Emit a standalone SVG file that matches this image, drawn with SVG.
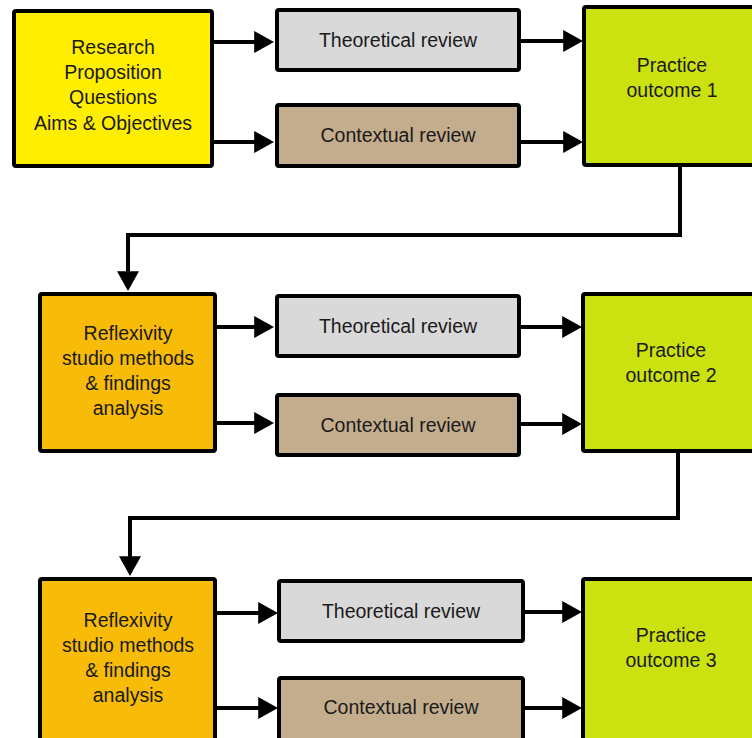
<svg xmlns="http://www.w3.org/2000/svg" width="752" height="738" viewBox="0 0 752 738">
<style>
.box{stroke:#000;stroke-width:4;stroke-linejoin:round}
.start{fill:#FFEE00}
.refl{fill:#F7BB08}
.theo{fill:#D9D9D9}
.ctx{fill:#C4AD8D}
.prac{fill:#CCE210}
text{font-family:"Liberation Sans",Arial,sans-serif;font-size:19.5px;fill:#1a1a1a;text-anchor:middle}
.conn line,.conn path{stroke:#000;stroke-width:4;fill:none}
</style>
<defs>
<marker id="ah" markerUnits="userSpaceOnUse" markerWidth="20" markerHeight="22" refX="8" refY="10" orient="auto" viewBox="0 0 18 20">
<path d="M0,0 L18,10 L0,20 z" fill="#000"/>
</marker>
</defs>
<rect width="752" height="738" fill="#fff"/>
<g class="conn">
<line x1="214" y1="42" x2="263" y2="42" marker-end="url(#ah)"/>
<line x1="214" y1="142" x2="263" y2="142" marker-end="url(#ah)"/>
<line x1="521" y1="41" x2="572" y2="41" marker-end="url(#ah)"/>
<line x1="521" y1="142" x2="572" y2="142" marker-end="url(#ah)"/>
<path d="M680,167 V235 H128 V280" marker-end="url(#ah)"/>
<line x1="217" y1="327" x2="263" y2="327" marker-end="url(#ah)"/>
<line x1="217" y1="423" x2="263" y2="423" marker-end="url(#ah)"/>
<line x1="521" y1="327" x2="571" y2="327" marker-end="url(#ah)"/>
<line x1="521" y1="424" x2="571" y2="424" marker-end="url(#ah)"/>
<path d="M678,453 V518 H130 V565" marker-end="url(#ah)"/>
<line x1="217" y1="613" x2="267" y2="613" marker-end="url(#ah)"/>
<line x1="217" y1="708" x2="267" y2="708" marker-end="url(#ah)"/>
<line x1="525" y1="612" x2="571" y2="612" marker-end="url(#ah)"/>
<line x1="525" y1="708" x2="571" y2="708" marker-end="url(#ah)"/>
</g>
<g id="research">
<rect class="box start" x="14" y="11" width="198" height="155" rx="2"/>
<text x="113" y="54">Research</text>
<text x="113" y="79">Proposition</text>
<text x="113" y="104">Questions</text>
<text x="113" y="130">Aims &amp; Objectives</text>
</g>
<g id="theo1">
<rect class="box theo" x="277" y="10" width="242" height="60" rx="2"/>
<text x="398" y="47">Theoretical review</text>
</g>
<g id="ctx1">
<rect class="box ctx" x="277" y="105" width="242" height="61" rx="2"/>
<text x="398" y="142">Contextual review</text>
</g>
<g id="prac1">
<rect class="box prac" x="584" y="7" width="200" height="158" rx="2"/>
<text x="672" y="72">Practice</text>
<text x="672" y="97">outcome 1</text>
</g>
<g id="refl2">
<rect class="box refl" x="40" y="294" width="175" height="157" rx="2"/>
<text x="128" y="340">Reflexivity</text>
<text x="128" y="365">studio methods</text>
<text x="128" y="390">&amp; findings</text>
<text x="128" y="415">analysis</text>
</g>
<g id="theo2">
<rect class="box theo" x="277" y="296" width="242" height="60" rx="2"/>
<text x="398" y="333">Theoretical review</text>
</g>
<g id="ctx2">
<rect class="box ctx" x="277" y="395" width="242" height="60" rx="2"/>
<text x="398" y="432">Contextual review</text>
</g>
<g id="prac2">
<rect class="box prac" x="583" y="294" width="200" height="157" rx="2"/>
<text x="671" y="357">Practice</text>
<text x="671" y="382">outcome 2</text>
</g>
<g id="refl3">
<rect class="box refl" x="40" y="579" width="175" height="200" rx="2"/>
<text x="128" y="627">Reflexivity</text>
<text x="128" y="652">studio methods</text>
<text x="128" y="677">&amp; findings</text>
<text x="128" y="702">analysis</text>
</g>
<g id="theo3">
<rect class="box theo" x="279" y="581" width="244" height="60" rx="2"/>
<text x="401" y="618">Theoretical review</text>
</g>
<g id="ctx3">
<rect class="box ctx" x="279" y="678" width="244" height="100" rx="2"/>
<text x="401" y="714">Contextual review</text>
</g>
<g id="prac3">
<rect class="box prac" x="583" y="579" width="200" height="200" rx="2"/>
<text x="671" y="642">Practice</text>
<text x="671" y="667">outcome 3</text>
</g>
</svg>
